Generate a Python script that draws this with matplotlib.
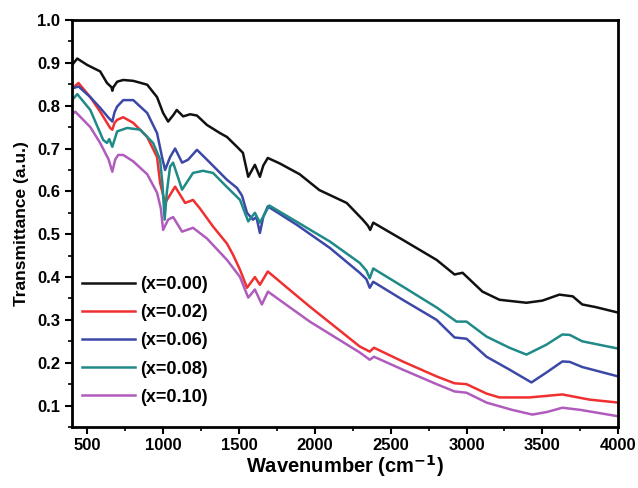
import matplotlib
matplotlib.use("Agg")
import matplotlib.pyplot as plt
from matplotlib.ticker import MultipleLocator

plt.rcParams["font.family"] = ["Liberation Sans", "DejaVu Sans"]
plt.rcParams["font.weight"] = "bold"
plt.rcParams["mathtext.default"] = "bf"

# FTIR 透过率曲线
wn_000 = [400, 434, 500, 585, 630, 660, 665, 672, 697, 737, 803, 895, 960, 1000, 1033,
          1067, 1090, 1132, 1178, 1223, 1289, 1375, 1421, 1487, 1526, 1561, 1605, 1638,
          1660, 1690, 1770, 1900, 2030, 2210, 2316, 2350, 2365, 2385, 2579, 2803, 2921,
          2974, 3105, 3217, 3395, 3500, 3612, 3700, 3763, 3850, 4000]
tr_000 = [0.895, 0.91, 0.895, 0.88, 0.853, 0.843, 0.835, 0.843, 0.856, 0.86, 0.858, 0.849,
          0.82, 0.783, 0.763, 0.778, 0.79, 0.775, 0.78, 0.777, 0.755, 0.736, 0.727, 0.704,
          0.69, 0.634, 0.662, 0.634, 0.66, 0.678, 0.665, 0.64, 0.603, 0.573, 0.534, 0.52,
          0.51, 0.527, 0.487, 0.44, 0.406, 0.41, 0.366, 0.347, 0.34, 0.345, 0.359, 0.355,
          0.336, 0.33, 0.317]

wn_002 = [400, 442, 520, 585, 651, 665, 680, 697, 737, 803, 895, 960, 980, 1013, 1079,
          1145, 1197, 1243, 1329, 1421, 1461, 1507, 1553, 1605, 1638, 1690, 1855, 1967,
          2296, 2362, 2390, 2579, 2803, 2921, 3000, 3132, 3217, 3414, 3632, 3809, 4000]
tr_002 = [0.84, 0.853, 0.82, 0.786, 0.748, 0.744, 0.76, 0.767, 0.773, 0.76, 0.727, 0.68,
          0.62, 0.573, 0.611, 0.573, 0.58, 0.56, 0.518, 0.478, 0.452, 0.417, 0.375, 0.40,
          0.382, 0.413, 0.364, 0.331, 0.238, 0.226, 0.235, 0.203, 0.168, 0.152, 0.15,
          0.128, 0.119, 0.119, 0.126, 0.114, 0.107]

wn_006 = [400, 442, 520, 585, 640, 665, 680, 697, 737, 803, 895, 960, 993, 1013, 1046,
          1079, 1125, 1165, 1223, 1289, 1421, 1487, 1520, 1553, 1592, 1615, 1638, 1660,
          1690, 1881, 2099, 2296, 2340, 2362, 2385, 2579, 2803, 2921, 3000, 3132, 3283,
          3428, 3526, 3632, 3680, 3763, 4000]
tr_006 = [0.84, 0.845, 0.82, 0.795, 0.772, 0.763, 0.785, 0.798, 0.813, 0.813, 0.783, 0.736,
          0.68, 0.65, 0.68, 0.70, 0.667, 0.674, 0.697, 0.674, 0.627, 0.608, 0.59, 0.55,
          0.534, 0.54, 0.503, 0.54, 0.565, 0.522, 0.468, 0.41, 0.395, 0.375, 0.389, 0.347,
          0.30, 0.259, 0.256, 0.214, 0.184, 0.154, 0.177, 0.203, 0.202, 0.19, 0.168]

wn_008 = [400, 434, 520, 605, 630, 645, 665, 697, 763, 849, 934, 980, 995, 1010, 1025,
          1046, 1066, 1125, 1197, 1263, 1329, 1421, 1507, 1561, 1605, 1638, 1700, 1881,
          2099, 2296, 2340, 2362, 2385, 2579, 2803, 2934, 3000, 3132, 3283, 3395, 3526,
          3632, 3680, 3763, 4000]
tr_008 = [0.813, 0.827, 0.79, 0.72, 0.713, 0.722, 0.704, 0.74, 0.748, 0.744, 0.713, 0.674,
          0.62, 0.534, 0.6, 0.658, 0.667, 0.604, 0.643, 0.648, 0.643, 0.61, 0.58, 0.53,
          0.55, 0.527, 0.567, 0.529, 0.483, 0.433, 0.415, 0.397, 0.42, 0.378, 0.329, 0.296,
          0.296, 0.261, 0.235, 0.219, 0.242, 0.266, 0.265, 0.25, 0.233]

wn_010 = [400, 421, 520, 585, 640, 665, 685, 704, 737, 803, 895, 960, 985, 1000, 1033,
          1066, 1125, 1197, 1289, 1421, 1507, 1561, 1605, 1651, 1691, 1967, 2296, 2362,
          2390, 2579, 2803, 2921, 3000, 3132, 3300, 3434, 3530, 3632, 3750, 4000]
tr_010 = [0.78, 0.786, 0.75, 0.713, 0.675, 0.646, 0.675, 0.685, 0.685, 0.67, 0.64, 0.597,
          0.56, 0.51, 0.534, 0.54, 0.506, 0.515, 0.49, 0.44, 0.40, 0.352, 0.371, 0.336,
          0.366, 0.296, 0.224, 0.207, 0.214, 0.184, 0.15, 0.133, 0.13, 0.107, 0.09, 0.079,
          0.085, 0.095, 0.09, 0.075]

labels = ["(x=0.00)", "(x=0.02)", "(x=0.06)", "(x=0.08)", "(x=0.10)"]
colors = ["#111111", "#f03030", "#3c48a8", "#1f8a88", "#b05cbc"]
series = [(wn_000, tr_000), (wn_002, tr_002), (wn_006, tr_006),
          (wn_008, tr_008), (wn_010, tr_010)]

fig = plt.figure(figsize=(6.38, 4.88), dpi=100)
ax = fig.add_axes([0.113, 0.125, 0.856, 0.834])

for (wn, tr), lab, c in zip(series, labels, colors):
    ax.plot(wn, tr, color=c, lw=1.8, label=lab)

ax.set_xlim(400, 4000)
ax.set_ylim(0.05, 1.0)
ax.xaxis.set_major_locator(MultipleLocator(500))
ax.xaxis.set_minor_locator(MultipleLocator(250))
ax.yaxis.set_major_locator(MultipleLocator(0.1))
ax.yaxis.set_minor_locator(MultipleLocator(0.05))
ax.tick_params(which="major", direction="out", length=5, width=1.5, labelsize=12)
ax.tick_params(which="minor", direction="out", length=3, width=1.2)
ax.tick_params(axis="x", pad=3)
for sp in ax.spines.values():
    sp.set_linewidth(2)
for t in ax.get_xticklabels() + ax.get_yticklabels():
    t.set_fontweight("bold")

ax.set_xlabel("Wavenumber (cm$^{-1}$)", fontsize=14.5, fontweight="bold", labelpad=0)
ax.set_ylabel("Transmittance (a.u.)", fontsize=12.5, fontweight="bold", labelpad=6)

ax.legend(loc="upper left", bbox_to_anchor=(0.012, 0.38), frameon=False,
          prop={"size": 13, "weight": "bold"}, handlelength=2.9, handletextpad=0.3,
          labelspacing=0.62, borderaxespad=0.0, borderpad=0.2)

fig.savefig("out.png", dpi=100)
